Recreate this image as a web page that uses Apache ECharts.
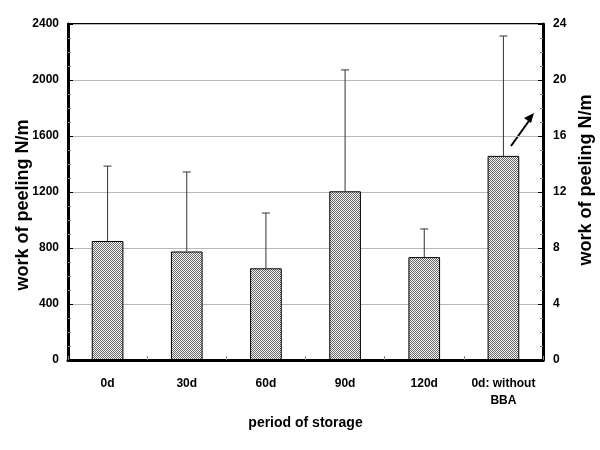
<!DOCTYPE html>
<html><head><meta charset="utf-8">
<script src="https://cdn.jsdelivr.net/npm/echarts@6/dist/echarts.min.js"></script>
<style>html,body{margin:0;padding:0;background:#fff}#c{width:600px;height:450px}</style>
</head><body><div id="c"></div>
<script>
var categories = ['0d', '30d', '60d', '90d', '120d', '0d: without\nBBA'];
var meanValues = [850, 775, 655, 1205, 735, 1458];
var errorTops = [1385, 1343, 1050, 2072, 936, 2314];
var leftTicks = [0, 400, 800, 1200, 1600, 2000, 2400];
var rightTicks = [0, 4, 8, 12, 16, 20, 24];

var pat = document.createElement('canvas');
pat.width = 2; pat.height = 2;
var pc = pat.getContext('2d');
pc.fillStyle = '#f4f4f4'; pc.fillRect(0, 0, 2, 2);
pc.fillStyle = '#6a6a6a'; pc.fillRect(0, 0, 1, 1); pc.fillRect(1, 1, 1, 1);

var font = '"Liberation Sans", Arial, sans-serif';
var chart = echarts.init(document.getElementById('c'), null, {renderer: 'canvas'});
chart.setOption({
  animation: false,
  backgroundColor: '#fff',
  grid: {left: 68, right: 57, top: 24, bottom: 90, containLabel: false, outerBoundsMode: 'none', show: true, borderColor: '#000', borderWidth: 2, backgroundColor: 'transparent'},
  xAxis: {
    type: 'category', data: categories,
    name: 'period of storage', nameLocation: 'middle', nameGap: 56,
    nameTextStyle: {fontFamily: font, fontWeight: 'bold', fontSize: 14, color: '#000'},
    axisLine: {lineStyle: {color: '#000', width: 3}},
    axisTick: {show: true, inside: true, length: 4, lineStyle: {color: '#888'}},
    axisLabel: {interval: 0, hideOverlap: false, fontFamily: font, fontWeight: 'bold', fontSize: 12, color: '#000', margin: 15, lineHeight: 17}
  },
  yAxis: [{
    type: 'value', min: leftTicks[0], max: leftTicks[leftTicks.length - 1], interval: 400,
    name: 'work of peeling N/m', nameLocation: 'middle', nameGap: 36, nameRotate: 90, nameMoveOverlap: false,
    nameTextStyle: {fontFamily: font, fontWeight: 'bold', fontSize: 18, color: '#000', padding: [0, 26, 0, 0]},
    axisLine: {show: true, lineStyle: {color: '#000', width: 3}},
    axisTick: {show: true, inside: true, length: 5, lineStyle: {color: '#000'}},
    minorTick: {show: true, splitNumber: 4, length: 3, lineStyle: {color: '#888'}},
    splitLine: {show: true, lineStyle: {color: '#b8b8b8', width: 1}},
    axisLabel: {fontFamily: font, fontWeight: 'bold', fontSize: 12, color: '#000', margin: 9, formatter: function (v) { return String(v); }}
  }, {
    type: 'value', min: rightTicks[0], max: rightTicks[rightTicks.length - 1], interval: 4, position: 'right',
    name: 'work of peeling N/m', nameLocation: 'middle', nameGap: 31, nameRotate: 90,
    nameTextStyle: {fontFamily: font, fontWeight: 'bold', fontSize: 18, color: '#000', padding: [0, 0, 0, 24]},
    axisLine: {show: true, lineStyle: {color: '#000', width: 3}},
    axisTick: {show: true, inside: true, length: 5, lineStyle: {color: '#000'}},
    minorTick: {show: true, splitNumber: 4, length: 3, lineStyle: {color: '#888'}},
    splitLine: {show: false},
    axisLabel: {fontFamily: font, fontWeight: 'bold', fontSize: 12, color: '#000', margin: 10, formatter: function (v) { return String(v); }}
  }],
  series: [{
    type: 'bar', data: meanValues, barWidth: '40%', yAxisIndex: 0,
    itemStyle: {color: {image: pat, repeat: 'repeat'}, borderColor: '#000', borderWidth: 1}
  }, {
    type: 'custom', yAxisIndex: 0,
    data: meanValues.map(function (v, i) { return [i, v, errorTops[i]]; }),
    renderItem: function (params, api) {
      var b = api.coord([api.value(0), api.value(1)]);
      var t = api.coord([api.value(0), api.value(2)]);
      return {type: 'group', children: [
        {type: 'line', shape: {x1: b[0], y1: b[1], x2: t[0], y2: t[1]}, style: {stroke: '#333', lineWidth: 1}},
        {type: 'line', shape: {x1: t[0] - 4, y1: t[1], x2: t[0] + 4, y2: t[1]}, style: {stroke: '#333', lineWidth: 1}}
      ]};
    },
    z: 5
  }],
  graphic: [{
    type: 'group', children: [
      {type: 'line', shape: {x1: 511, y1: 146, x2: 531, y2: 118}, style: {stroke: '#000', lineWidth: 2}},
      {type: 'polygon', shape: {points: [[534, 113], [524, 118], [531, 123]]}, style: {fill: '#000'}}
    ]
  }]
});
</script></body></html>
